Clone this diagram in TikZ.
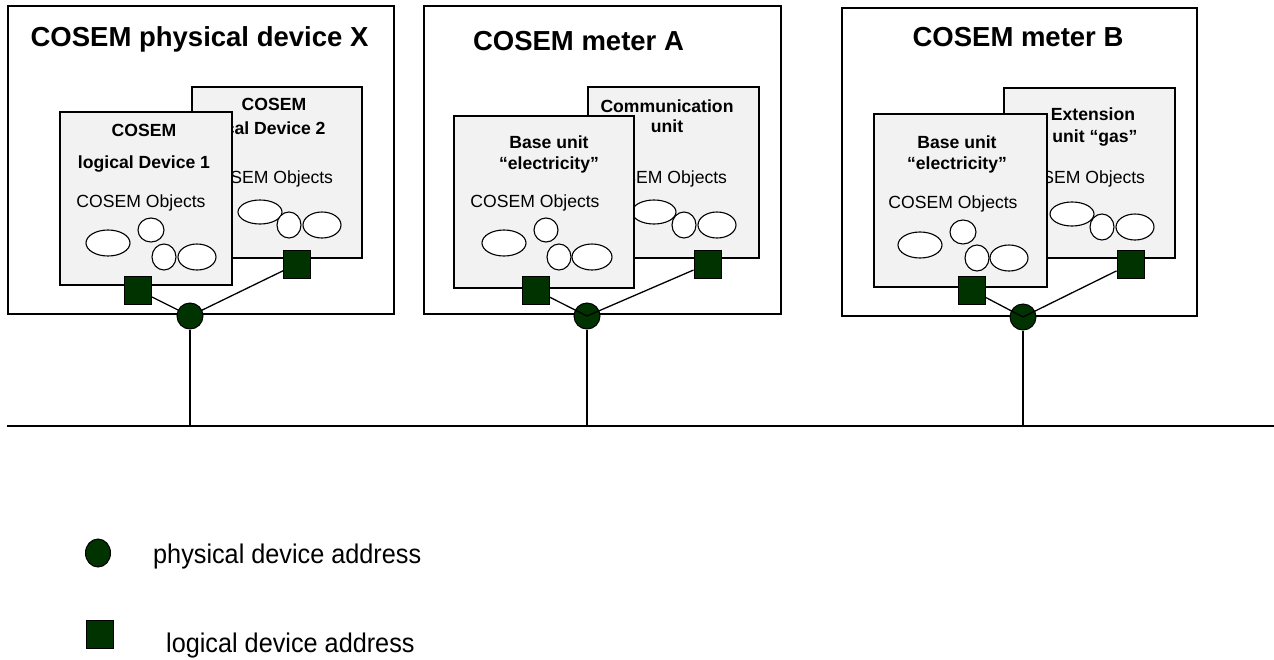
\documentclass[tikz,border=0pt]{standalone}
\usepackage{fontspec}
\setmainfont{Liberation Sans}
\newfontfamily\legendfont[FakeStretch=0.935]{Liberation Sans}
\usetikzlibrary{positioning, shapes.geometric}
\definecolor{addrgreen}{RGB}{0,51,0}

\begin{document}
\begin{tikzpicture}[
        x=1pt, y=-1pt,
        device/.style={rectangle, draw=black, line width=1.5pt, inner sep=0pt},
        unitbox/.style={rectangle, draw=black, fill=gray!10, line width=1.3pt, inner sep=0pt},
        title/.style={anchor=base, inner sep=0pt, font=\fontsize{27.5}{30}\selectfont\bfseries},
        unitlabel/.style={anchor=base, inner sep=0pt, font=\fontsize{17.6}{20}\selectfont\bfseries},
        objlabel/.style={anchor=base, inner sep=0pt, font=\fontsize{17.6}{20}\selectfont},
        obj/.style={draw=black, fill=white, line width=1.1pt},
        ldaddr/.style={rectangle, draw=black, fill=addrgreen, line width=1pt, minimum width=27pt, minimum height=28pt, inner sep=0pt},
        pdaddr/.style={circle, draw=black, fill=addrgreen, line width=1pt, minimum size=26pt, inner sep=0pt},
        link/.style={draw=black, line width=1.3pt},
        bus/.style={draw=black, line width=1.6pt},
        legend/.style={anchor=base west, inner sep=0pt, font=\legendfont\fontsize{27}{30}\selectfont}
    ]
        \useasboundingbox (0,0) rectangle (1274,659);

        % --- DEVICES ---
        \node[device, minimum width=386pt, minimum height=308pt] (devX) at (201,160) {};
        \node[device, minimum width=357pt, minimum height=308pt] (devA) at (602.5,160) {};
        \node[device, minimum width=355pt, minimum height=308pt] (devB) at (1019.5,162) {};
        \node[title] (titleX) at (199.5,46) {COSEM physical device X};
        \node[title] (titleA) at (578.5,50) {COSEM meter A};
        \node[title] (titleB) at (1018,46) {COSEM meter B};

        % --- PHYSICAL DEVICE X ---
        \node[unitbox, minimum width=170pt, minimum height=171pt] (ldX2) at (277,172.5) {};
        \node[unitlabel] (ldX2a) at (274,110) {COSEM};
        \node[unitlabel] (ldX2b) at (259.5,134) {logical Device 2};
        \node[objlabel] (ldX2c) at (268.5,183) {COSEM Objects};
        \draw[obj] (260,212) ellipse [x radius=22, y radius=12];
        \draw[obj] (289,225) ellipse [x radius=12, y radius=13];
        \draw[obj] (322,225) ellipse [x radius=19, y radius=13];

        \node[unitbox, minimum width=172pt, minimum height=173pt] (ldX1) at (146,198.5) {};
        \node[unitlabel] (ldX1a) at (144,136) {COSEM};
        \node[unitlabel] (ldX1b) at (144,168) {logical Device 1};
        \node[objlabel] (ldX1c) at (141,207) {COSEM Objects};
        \draw[obj] (108,243) ellipse [x radius=22, y radius=13];
        \draw[obj] (151,230) ellipse [x radius=13, y radius=12];
        \draw[obj] (164,257) ellipse [x radius=12, y radius=13];
        \draw[obj] (197,257) ellipse [x radius=19, y radius=13];

        % --- METER A ---
        \node[unitbox, minimum width=171pt, minimum height=171pt] (comA) at (673.5,172.5) {};
        \node[unitlabel] (comAa) at (667,112) {Communication};
        \node[unitlabel] (comAb) at (667,132) {unit};
        \node[objlabel] (comAc) at (662.5,183) {COSEM Objects};
        \draw[obj] (654,212) ellipse [x radius=22, y radius=12];
        \draw[obj] (684,225) ellipse [x radius=12, y radius=13];
        \draw[obj] (717,225) ellipse [x radius=19, y radius=13];

        \node[unitbox, minimum width=180pt, minimum height=172pt] (baseA) at (544,202) {};
        \node[unitlabel] (baseAa) at (549,148) {Base unit};
        \node[unitlabel] (baseAb) at (549,169) {“electricity”};
        \node[objlabel] (baseAc) at (535,207) {COSEM Objects};
        \draw[obj] (504,243) ellipse [x radius=22, y radius=13];
        \draw[obj] (546,230) ellipse [x radius=12, y radius=12];
        \draw[obj] (559,257) ellipse [x radius=12, y radius=13];
        \draw[obj] (592,257) ellipse [x radius=20, y radius=13];

        % --- METER B ---
        \node[unitbox, minimum width=171pt, minimum height=170pt] (extB) at (1089.5,173) {};
        \node[unitlabel] (extBa) at (1093,120) {Extension};
        \node[unitlabel] (extBb) at (1095,142) {unit “gas”};
        \node[objlabel] (extBc) at (1080.5,183) {COSEM Objects};
        \draw[obj] (1072,214) ellipse [x radius=22, y radius=12];
        \draw[obj] (1102,227) ellipse [x radius=12, y radius=13];
        \draw[obj] (1135,227) ellipse [x radius=19, y radius=13];

        \node[unitbox, minimum width=173pt, minimum height=173pt] (baseB) at (960.5,200.5) {};
        \node[unitlabel] (baseBa) at (957,148) {Base unit};
        \node[unitlabel] (baseBb) at (957,169) {“electricity”};
        \node[objlabel] (baseBc) at (953,208) {COSEM Objects};
        \draw[obj] (920,245) ellipse [x radius=22, y radius=13];
        \draw[obj] (963,232) ellipse [x radius=13, y radius=12];
        \draw[obj] (977,258) ellipse [x radius=12, y radius=13];
        \draw[obj] (1009,258) ellipse [x radius=19, y radius=13];

        % --- ADDRESSES ---
        \node[ldaddr] (laX1) at (138,290) {};
        \node[ldaddr] (laX2) at (297,264) {};
        \node[ldaddr] (laA1) at (535.5,290) {};
        \node[ldaddr] (laA2) at (707.5,264) {};
        \node[ldaddr] (laB1) at (971.5,290) {};
        \node[ldaddr] (laB2) at (1130.5,264) {};

        \coordinate (busW) at (7,426);
        \coordinate (busE) at (1274,426);

        % --- CONNECTIONS ---
        \draw[bus] (busW) -- (busE);
        \draw[link] (laX1) -- (190,316) -- (laX2);
        \node[pdaddr] (paX) at (190,316) {};
        \node[pdaddr] (paA) at (587,316) {};
        \node[pdaddr] (paB) at (1023,317) {};
        \draw[link] (laA1) -- (paA.center) -- (laA2);
        \draw[link] (laB1) -- (paB.center) -- (laB2);
        \draw[link] (paX) -- (paX |- busW);
        \draw[link] (paA) -- (paA |- busW);
        \draw[link] (paB) -- (paB |- busW);

        % --- LEGEND ---
        \node[pdaddr, ellipse, minimum width=25pt, minimum height=28pt] (keyPa) at (98,553) {};
        \node[legend] (keyPaText) at (153,563) {physical device address};
        \node[ldaddr] (keyLa) at (99.5,634) {};
        \node[legend] (keyLaText) at (166,652) {logical device address};
    \end{tikzpicture}
\end{document}
